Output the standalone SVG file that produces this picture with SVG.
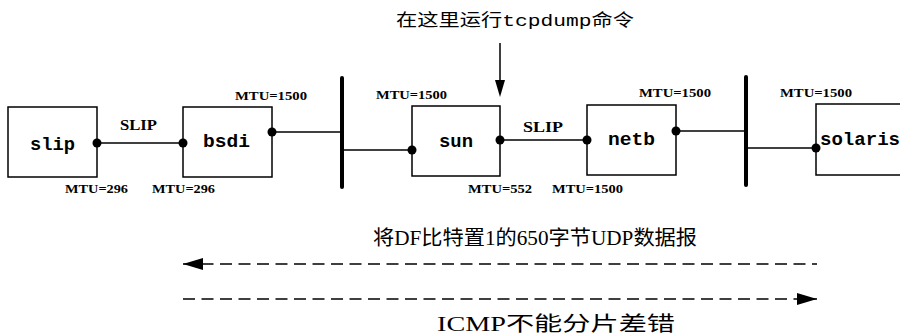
<svg xmlns="http://www.w3.org/2000/svg" width="900" height="334" viewBox="0 0 900 334">
<style>
.box{fill:#fff;stroke:#000;stroke-width:1.5}
.lbl{font-family:"Liberation Mono",monospace;font-weight:bold;font-size:18px;fill:#000;text-anchor:start}
.mtu{font-family:"Liberation Serif",serif;font-weight:bold;font-size:12.5px;fill:#000}
.slip{font-family:"Liberation Serif",serif;font-weight:bold;font-size:15.5px;fill:#000}
.cap{font-family:"Liberation Serif","Noto Sans CJK SC",serif;font-size:20px;fill:#000}
.wire{stroke:#000;stroke-width:1.5;fill:none}
.bar{stroke:#000;stroke-width:4;stroke-linecap:round}
.dash{stroke:#000;stroke-width:1.6;stroke-dasharray:12 6.5;fill:none}
.dot{fill:#000}
</style>
<defs>
<marker id="ahL" markerUnits="userSpaceOnUse" markerWidth="20" markerHeight="12" refX="0" refY="6" orient="auto" viewBox="0 0 20 12"><path d="M0,6 L20,0 L20,12 Z" fill="#000"/></marker>
<marker id="ahR" markerUnits="userSpaceOnUse" markerWidth="20" markerHeight="12" refX="20" refY="6" orient="auto" viewBox="0 0 20 12"><path d="M0,0 L20,6 L0,12 Z" fill="#000"/></marker>
</defs>

<text x="396" y="26" font-family="'Noto Sans CJK SC',sans-serif" font-size="17" textLength="238" lengthAdjust="spacingAndGlyphs">在这里运行<tspan font-family="'Liberation Mono',monospace">tcpdump</tspan>命令</text>

<g id="connectors">
<line class="wire" x1="500" y1="43" x2="500" y2="82"/>
<polygon points="495,80 505,80 500,97" fill="#000"/>
<line class="bar" x1="342" y1="78" x2="342" y2="187"/>
<line class="bar" x1="746" y1="77" x2="746" y2="185"/>
<line class="wire" x1="97" y1="143" x2="183" y2="143"/>
<line class="wire" x1="272" y1="132" x2="342" y2="132"/>
<line class="wire" x1="342" y1="150" x2="412" y2="150"/>
<line class="wire" x1="500" y1="140" x2="587" y2="140"/>
<line class="wire" x1="676" y1="131" x2="746" y2="131"/>
<line class="wire" x1="746" y1="148" x2="816" y2="148"/>
<line class="dash" x1="183" y1="264" x2="817" y2="264" marker-start="url(#ahL)"/>
<line class="dash" x1="183" y1="299" x2="817" y2="299" marker-end="url(#ahR)"/>
<text class="slip" x="120" y="130" textLength="37" lengthAdjust="spacingAndGlyphs">SLIP</text>
<text class="slip" x="523" y="132" textLength="40" lengthAdjust="spacingAndGlyphs">SLIP</text>
</g>

<g id="slip">
<rect class="box" x="8" y="107" width="89" height="70"/>
<text class="lbl" x="30" y="150" textLength="45" lengthAdjust="spacingAndGlyphs">slip</text>
<circle class="dot" cx="97" cy="143" r="4.5"/>
<text class="mtu" x="65" y="193" textLength="63" lengthAdjust="spacingAndGlyphs">MTU=296</text>
</g>

<g id="bsdi">
<rect class="box" x="183" y="107" width="89" height="70"/>
<text class="lbl" x="203" y="147" textLength="47" lengthAdjust="spacingAndGlyphs">bsdi</text>
<circle class="dot" cx="183" cy="143" r="4.5"/>
<circle class="dot" cx="272" cy="132" r="4.5"/>
<text class="mtu" x="152" y="193" textLength="63" lengthAdjust="spacingAndGlyphs">MTU=296</text>
<text class="mtu" x="235" y="100" textLength="72" lengthAdjust="spacingAndGlyphs">MTU=1500</text>
</g>

<g id="sun">
<rect class="box" x="412" y="106" width="88" height="70"/>
<text class="lbl" x="439" y="147" textLength="34" lengthAdjust="spacingAndGlyphs">sun</text>
<circle class="dot" cx="412" cy="150" r="4.5"/>
<circle class="dot" cx="500" cy="140" r="4.5"/>
<text class="mtu" x="376" y="99" textLength="71" lengthAdjust="spacingAndGlyphs">MTU=1500</text>
<text class="mtu" x="468" y="193" textLength="64" lengthAdjust="spacingAndGlyphs">MTU=552</text>
</g>

<g id="netb">
<rect class="box" x="587" y="105" width="89" height="70"/>
<text class="lbl" x="608" y="145" textLength="47" lengthAdjust="spacingAndGlyphs">netb</text>
<circle class="dot" cx="587" cy="140" r="4.5"/>
<circle class="dot" cx="676" cy="131" r="4.5"/>
<text class="mtu" x="552" y="193" textLength="71" lengthAdjust="spacingAndGlyphs">MTU=1500</text>
<text class="mtu" x="639" y="97" textLength="72" lengthAdjust="spacingAndGlyphs">MTU=1500</text>
</g>

<g id="solaris">
<rect class="box" x="816" y="104" width="90" height="71"/>
<text class="lbl" x="820" y="145" textLength="80" lengthAdjust="spacingAndGlyphs">solaris</text>
<circle class="dot" cx="816" cy="148" r="4.5"/>
<text class="mtu" x="780" y="97" textLength="72" lengthAdjust="spacingAndGlyphs">MTU=1500</text>
</g>

<text class="cap" x="373" y="245" textLength="324" lengthAdjust="spacingAndGlyphs">将DF比特置1的650字节UDP数据报</text>
<text class="cap" x="437" y="331" font-size="21" textLength="238" lengthAdjust="spacingAndGlyphs">ICMP不能分片差错</text>
</svg>
